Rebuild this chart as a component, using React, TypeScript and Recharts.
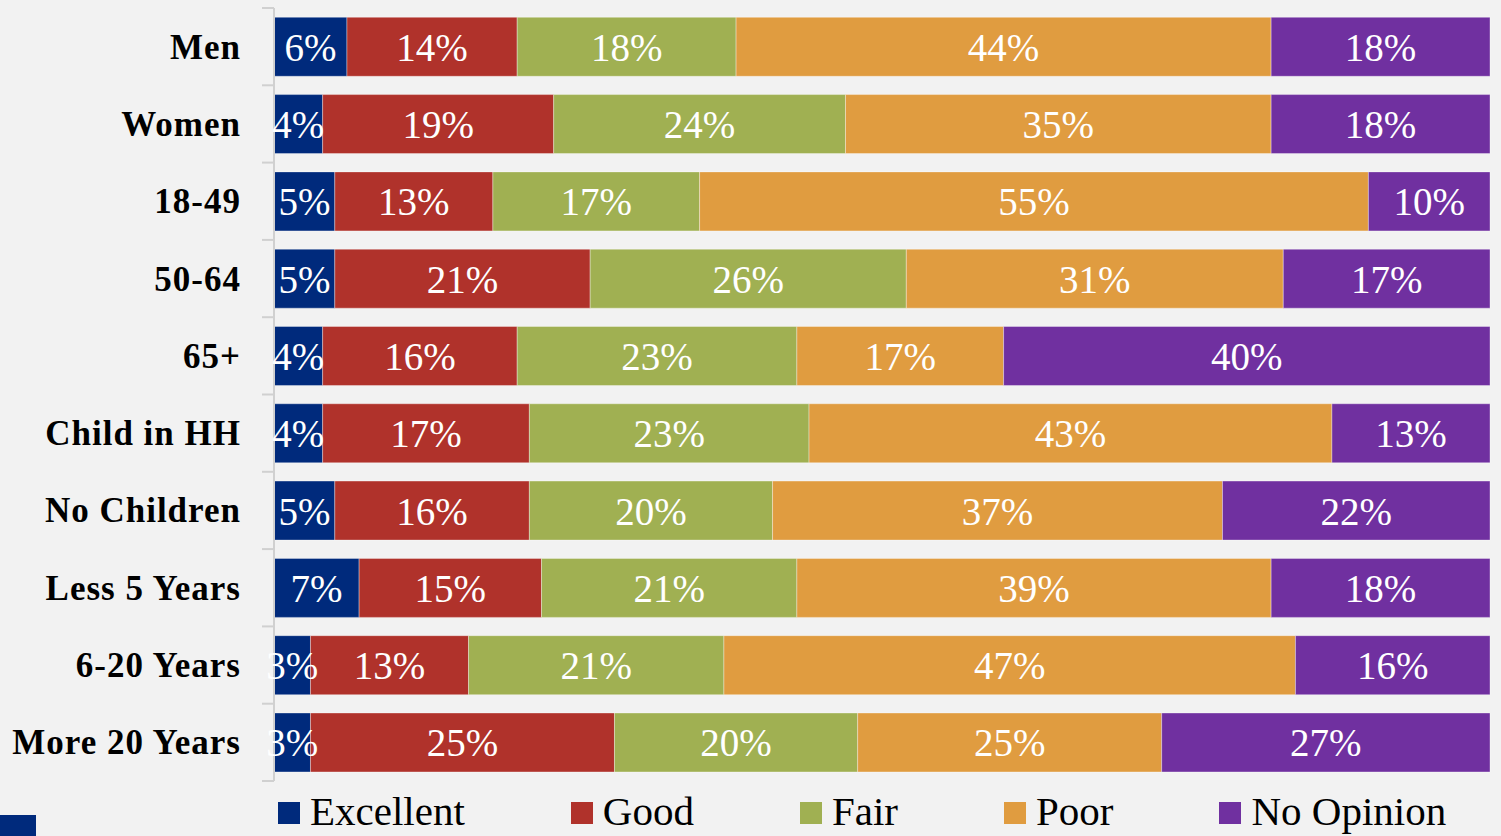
import { BarChart, Bar, XAxis, YAxis, LabelList } from 'recharts';

const groups = [
  'Men',
  'Women',
  '18-49',
  '50-64',
  '65+',
  'Child in HH',
  'No Children',
  'Less 5 Years',
  '6-20 Years',
  'More 20 Years',
];

const excellent = [6, 4, 5, 5, 4, 4, 5, 7, 3, 3];
const good = [14, 19, 13, 21, 16, 17, 16, 15, 13, 25];
const fair = [18, 24, 17, 26, 23, 23, 20, 21, 21, 20];
const poor = [44, 35, 55, 31, 17, 43, 37, 39, 47, 25];
const noOpinion = [18, 18, 10, 17, 40, 13, 22, 18, 16, 27];

const series = [
  { key: 'excellent', name: 'Excellent', color: '#002a7c' },
  { key: 'good', name: 'Good', color: '#b0322b' },
  { key: 'fair', name: 'Fair', color: '#a0b052' },
  { key: 'poor', name: 'Poor', color: '#e09c40' },
  { key: 'noOpinion', name: 'No Opinion', color: '#7030a0' },
];

const data = groups.map((g, i) => ({
  group: g,
  excellent: excellent[i],
  good: good[i],
  fair: fair[i],
  poor: poor[i],
  noOpinion: noOpinion[i],
}));

const W = 1501;
const H = 836;
const TOP = 8;
const BOTTOM = 55;
const AXIS_W = 274;
const BAND = (H - TOP - BOTTOM) / groups.length;
const FONT = '"Liberation Serif", "DejaVu Serif", serif';

function GroupTick(props: any) {
  const { y, payload, index } = props;
  return (
    <g>
      <line x1={AXIS_W - 12} x2={AXIS_W} y1={y + BAND / 2} y2={y + BAND / 2} stroke="#d0d0d0" strokeWidth={2} />
      {index === 0 && (
        <line x1={AXIS_W - 12} x2={AXIS_W} y1={y - BAND / 2} y2={y - BAND / 2} stroke="#d0d0d0" strokeWidth={2} />
      )}
      <text
        x={241}
        y={y}
        dy={12}
        textAnchor="end"
        fontFamily={FONT}
        fontSize={35}
        fontWeight="bold"
        letterSpacing={1}
        fill="#000"
      >
        {payload.value}
      </text>
    </g>
  );
}

function PctLabel(props: any) {
  const { x, y, width, height, value } = props;
  return (
    <text
      x={x + width / 2}
      y={y + height / 2}
      dy={14}
      textAnchor="middle"
      fontFamily={FONT}
      fontSize={39}
      fill="#fff"
    >
      {`${value}%`}
    </text>
  );
}

export default function App() {
  return (
    <div style={{ position: 'fixed', left: 0, top: 0, width: W, height: H, background: '#f2f2f2', overflow: 'hidden' }}>
      <BarChart
        width={W}
        height={H}
        data={data}
        layout="vertical"
        barCategoryGap="12%"
        margin={{ top: TOP, right: 11, bottom: BOTTOM, left: 0 }}
      >
        <XAxis type="number" domain={[0, 100]} hide />
        <YAxis
          type="category"
          dataKey="group"
          width={AXIS_W}
          axisLine={{ stroke: '#d0d0d0', strokeWidth: 2 }}
          tickLine={false}
          tick={<GroupTick />}
          interval={0}
        />
        {series.map((s) => (
          <Bar
            key={s.key}
            dataKey={s.key}
            name={s.name}
            stackId="a"
            fill={s.color}
            stroke="rgba(255,255,255,0.35)"
            strokeWidth={1}
            isAnimationActive={false}
          >
            <LabelList dataKey={s.key} content={<PctLabel />} />
          </Bar>
        ))}
      </BarChart>
      <div
        style={{
          position: 'absolute',
          left: 278,
          top: 788,
          display: 'flex',
          gap: 106,
          fontFamily: FONT,
          fontSize: 41,
          color: '#000',
          whiteSpace: 'nowrap',
        }}
      >
        {series.map((s) => (
          <div key={s.key} style={{ display: 'flex', alignItems: 'center', gap: 10 }}>
            <span style={{ width: 22, height: 22, background: s.color, display: 'inline-block', marginTop: 4 }} />
            <span style={{ lineHeight: '46px' }}>{s.name}</span>
          </div>
        ))}
      </div>
      <div style={{ position: 'absolute', left: 0, top: 815, width: 36, height: 21, background: '#002a7c' }} />
    </div>
  );
}
